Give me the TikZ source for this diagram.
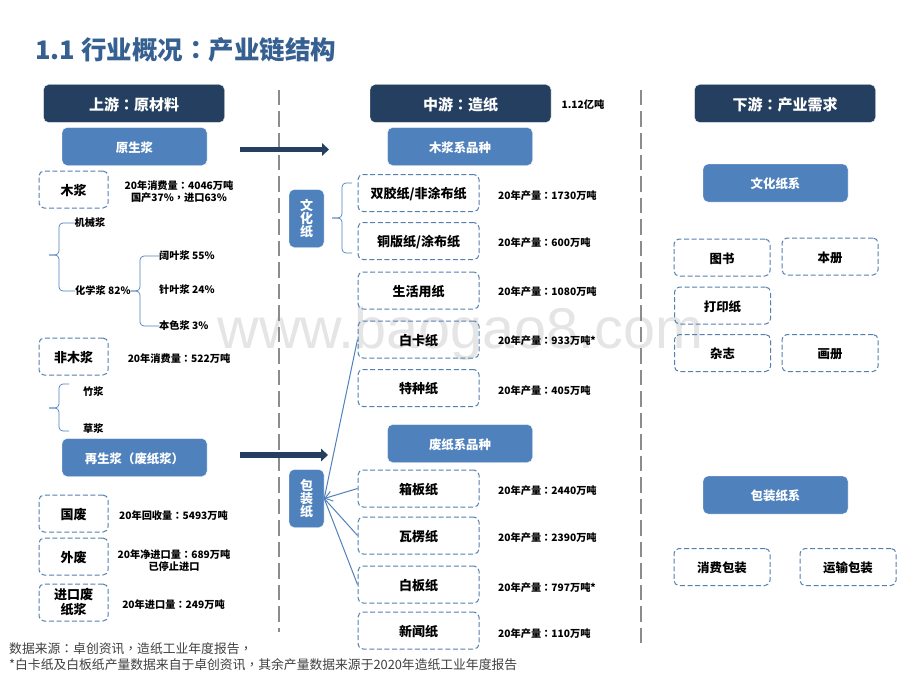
\documentclass[tikz,border=0pt]{standalone}
\usepackage{fontspec}
\setmainfont{Noto Sans CJK SC}
\newfontfamily\puncfont{Noto Sans CJK TC}
\newfontfamily\markfont{Liberation Sans}
\usepackage{xcolor}
\usetikzlibrary{arrows.meta}
\definecolor{navy}{HTML}{243F5F}
\definecolor{steel}{HTML}{4F81BD}
\definecolor{titleblue}{HTML}{366092}
\definecolor{dashblue}{HTML}{5480B0}
\definecolor{rulegray}{HTML}{8C8C8C}
\newcommand{\cn}{{\puncfont ：}}
\newcommand{\dou}{{\puncfont ，}}
\tikzset{
	headbox/.style={text height=15pt,text depth=0.6pt,fill=navy,draw=white,line width=0.4pt,rounded corners=5pt,minimum width=181pt,minimum height=38pt,text=white,font=\bfseries\fontsize{15}{15}\selectfont},
	bluebox/.style={text height=12pt,text depth=0.6pt,fill=steel,draw=white,line width=0.4pt,rounded corners=5pt,minimum width=145pt,minimum height=38pt,text=white,font=\bfseries\fontsize{12.4}{12.4}\selectfont},
	sidebox/.style={fill=steel,draw=white,line width=0.4pt,rounded corners=5pt,minimum width=35pt,minimum height=58pt,inner sep=0pt,align=center,text=white,font=\bfseries\fontsize{13}{13}\selectfont},
	dashbase/.style={draw=dashblue,line width=1pt,dash pattern=on 5pt off 2.6pt,rounded corners=5pt,minimum height=37pt,inner sep=0pt,align=center,font=\bfseries\fontsize{13}{15}\selectfont},
	dashbox/.style={dashbase,text height=12.4pt,text depth=0.6pt,minimum width=121pt},
	lbox/.style={dashbox,minimum width=69pt},
	rbox/.style={dashbox,minimum width=96pt,font=\bfseries\fontsize{12.4}{15}\selectfont},
	notetext/.style={inner sep=0pt,align=center,font=\bfseries\fontsize{10.2}{12}\selectfont},
	foottext/.style={inner sep=0pt,anchor=west,text=black!75,font=\fontsize{12.8}{12.8}\selectfont},
	bracket/.style={draw=steel,line width=0.7pt,rounded corners=4pt},
	link/.style={draw=steel,line width=1pt},
	fatarrow/.style={draw=navy,line width=5.5pt,-{Triangle[length=7pt,width=12.5pt]}},
	midrule/.style={draw=rulegray,line width=1.7pt,dash pattern=on 15.5pt off 6pt}
}
\newcommand{\curly}[4]{
	\draw[bracket] (#1) -| (#3) -- (#4);
	\draw[bracket] (#2) -| (#3) -- (#4);
}
\begin{document}
\begin{tikzpicture}[line cap=butt,line join=round,x=1pt,y=-1pt]
	\useasboundingbox (0,0) rectangle (920,690);
	\fill[white] (0,0) rectangle (920,690);
	\node[text=black!10,inner sep=0pt,font=\markfont\fontsize{57.5}{57.5}\selectfont] (watermark) at (460.5,333.5) {www.baogao8.com};
	\node[anchor=west,inner sep=0pt,text=titleblue,font=\bfseries\fontsize{25.5}{25.5}\selectfont] (title) at (35,50) {1.1 行业概况\cn 产业链结构};

	\coordinate (ruleatop) at (279,90);
	\coordinate (ruleabot) at (279,632);
	\coordinate (rulebtop) at (641,90);
	\coordinate (rulebbot) at (641,647);
	\draw[midrule] (ruleatop) -- (ruleabot);
	\draw[midrule] (rulebtop) -- (rulebbot);

	\node[headbox] (upstream) at (134,103.5) {上游\cn 原材料};
	\node[headbox] (midstream) at (460.5,103.5) {中游\cn 造纸};
	\node[headbox] (downstream) at (785,103.5) {下游\cn 产业需求};
	\node[notetext] (total) at (583,104.5) {1.12亿吨};

	\node[bluebox] (virgin) at (134.5,146.5) {原生浆};
	\node[bluebox] (recycled) at (134.5,457.5) {再生浆（废纸浆）};
	\node[bluebox] (woodkind) at (460,146.5) {木浆系品种};
	\node[bluebox] (wastekind) at (460,443.5) {废纸系品种};
	\node[bluebox] (culture) at (775.5,183) {文化纸系};
	\node[bluebox] (package) at (775.5,495) {包装纸系};

	\coordinate (arrowastart) at (240,149.5);
	\coordinate (arrowaend) at (329,149.5);
	\coordinate (arrowbstart) at (240,455);
	\coordinate (arrowbend) at (328,455);
	\draw[fatarrow] (arrowastart) -- (arrowaend);
	\draw[fatarrow] (arrowbstart) -- (arrowbend);

	\node[lbox] (wood) at (73.5,189.5) {木浆};
	\node[lbox] (nonwood) at (73.5,356.5) {非木浆};
	\node[lbox] (domestic) at (73.5,513.5) {国废};
	\node[lbox] (foreign) at (73.5,556.5) {外废};
	\node[dashbase,minimum width=69pt] (imported) at (73.5,602.5) {进口废\\纸浆};

	\node[notetext] (woodnote) at (179,191.5) {20年消费量\cn 4046万吨\\国产37\%\dou 进口63\%};
	\node[notetext] (nonwoodnote) at (179,359) {20年消费量\cn 522万吨};
	\node[notetext] (domesticnote) at (173.5,516) {20年回收量\cn 5493万吨};
	\node[notetext] (foreignnote) at (174,561) {20年净进口量\cn 689万吨\\已停止进口};
	\node[notetext] (importednote) at (173.5,605) {20年进口量\cn 249万吨};

	\node[notetext,anchor=west] (mech) at (74.5,223) {机械浆};
	\node[notetext,anchor=west] (chem) at (75,291) {化学浆 82\%};
	\node[notetext,anchor=west] (hard) at (159,256) {阔叶浆 55\%};
	\node[notetext,anchor=west] (soft) at (159,290) {针叶浆 24\%};
	\node[notetext,anchor=west] (natural) at (159,326) {本色浆 3\%};
	\node[notetext,anchor=west] (bamboo) at (83,392) {竹浆};
	\node[notetext,anchor=west] (straw) at (83,429) {草浆};

	\coordinate (mechspine) at (59,255);
	\coordinate (mechtip) at (49,255);
	\curly{mech.west}{chem.west}{mechspine}{mechtip}
	\coordinate (chemspine) at (140,291);
	\curly{hard.west}{natural.west}{chemspine}{chem.east}
	\coordinate (bambootop) at (69,384);
	\coordinate (strawbot) at (69,431);
	\coordinate (nonspine) at (59,408);
	\coordinate (nontip) at (49,408);
	\curly{bambootop}{strawbot}{nonspine}{nontip}
	\coordinate (culttop) at (352,183);
	\coordinate (cultbot) at (352,253);
	\coordinate (cultspine) at (342,218);
	\coordinate (culttip) at (332,218);
	\curly{culttop}{cultbot}{cultspine}{culttip}

	\node[sidebox] (cultside) at (306.5,218.5) {文\\化\\纸};
	\node[sidebox] (packside) at (306.5,498.5) {包\\装\\纸};

	\node[dashbox] (offset) at (418.5,193) {双胶纸/非涂布纸};
	\node[dashbox] (coated) at (418.5,241) {铜版纸/涂布纸};
	\node[dashbox] (tissue) at (418.5,290.5) {生活用纸};
	\node[dashbox] (ivory) at (418.5,339.5) {白卡纸};
	\node[dashbox] (special) at (418.5,388) {特种纸};
	\node[dashbox] (board) at (418.5,488.5) {箱板纸};
	\node[dashbox] (fluting) at (418.5,535.5) {瓦楞纸};
	\node[dashbox] (white) at (418.5,584.5) {白板纸};
	\node[dashbox] (news) at (418.5,630.5) {新闻纸};

	\node[notetext,anchor=west] (offsetnote) at (498,196) {20年产量\cn 1730万吨};
	\node[notetext,anchor=west] (coatednote) at (498,242.5) {20年产量\cn 600万吨};
	\node[notetext,anchor=west] (tissuenote) at (498,292) {20年产量\cn 1080万吨};
	\node[notetext,anchor=west] (ivorynote) at (498,340.5) {20年产量\cn 933万吨*};
	\node[notetext,anchor=west] (specialnote) at (498,390.5) {20年产量\cn 405万吨};
	\node[notetext,anchor=west] (boardnote) at (498,491) {20年产量\cn 2440万吨};
	\node[notetext,anchor=west] (flutingnote) at (498,538) {20年产量\cn 2390万吨};
	\node[notetext,anchor=west] (whitenote) at (498,587.5) {20年产量\cn 797万吨*};
	\node[notetext,anchor=west] (newsnote) at (498,633.5) {20年产量\cn 110万吨};

	\draw[link] (ivory.west) -- (packside.east);
	\draw[link,-{Straight Barb[length=7pt,width=10pt]}] (board.west) -- (packside.east);
	\draw[link] (fluting.west) -- (packside.east);
	\draw[link] (white.west) -- (packside.east);

	\node[rbox] (books) at (722,257.5) {图书};
	\node[rbox] (notebook) at (830,256.5) {本册};
	\node[rbox] (printing) at (722.5,305.5) {打印纸};
	\node[rbox] (magazine) at (722.5,353) {杂志};
	\node[rbox] (album) at (830,353) {画册};
	\node[rbox] (consumer) at (722,567) {消费包装};
	\node[rbox] (transport) at (848,567) {运输包装};

	\node[foottext] (sourcea) at (9,649) {数据来源\cn 卓创资讯\dou 造纸工业年度报告\dou};
	\node[foottext] (sourceb) at (9,665) {*白卡纸及白板纸产量数据来自于卓创资讯\dou 其余产量数据来源于2020年造纸工业年度报告};
\end{tikzpicture}
\end{document}
